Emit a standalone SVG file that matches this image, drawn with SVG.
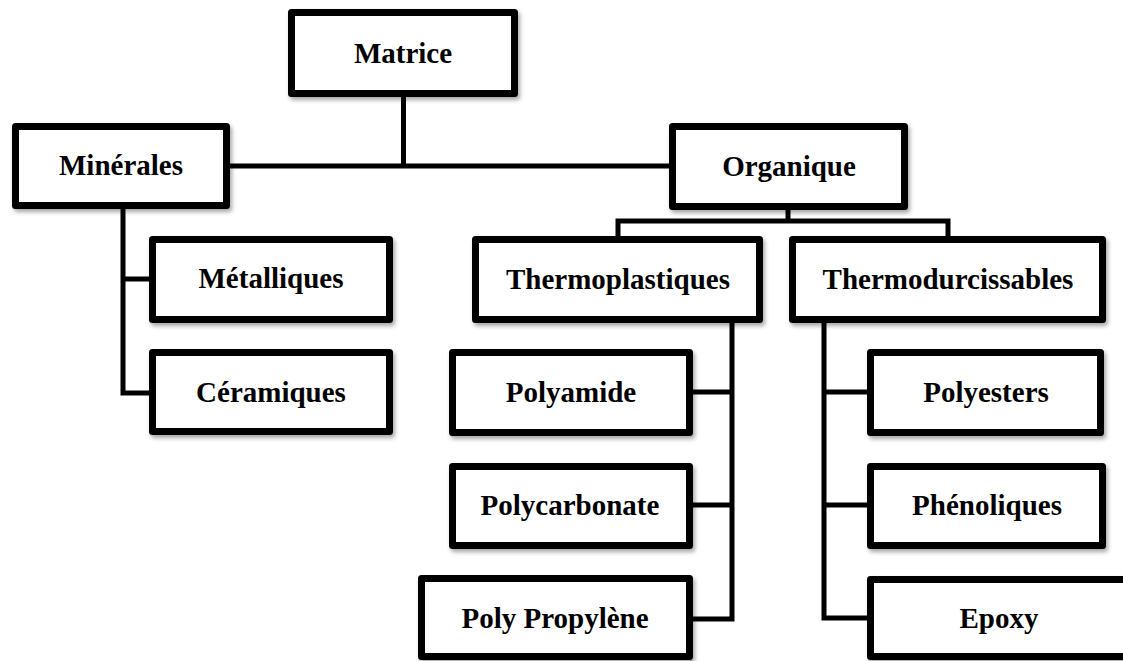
<svg xmlns="http://www.w3.org/2000/svg" width="1123" height="661" viewBox="0 0 1123 661">
<style>
.box{fill:#fff;stroke:#000;stroke-width:7;stroke-linejoin:round;filter:url(#sh)}
.lbl{font-family:"Liberation Serif","Times New Roman",serif;font-weight:bold;font-size:29px;fill:#000;text-anchor:middle}
.con{fill:none;stroke:#000;stroke-width:5;stroke-linejoin:miter}
</style>
<defs>
<filter id="sh" x="-10%" y="-10%" width="130%" height="140%">
<feDropShadow dx="2" dy="3" stdDeviation="2" flood-color="#000" flood-opacity="0.35"/>
</filter>
</defs>
<rect width="1123" height="661" fill="#fff"/>
<g id="connectors">
<path class="con" d="M403.5 97 V166 M230 166 H669"/>
<path class="con" d="M788 210 V221 M618 236 V221 H948 V236"/>
<path class="con" d="M123 209 V393 H149 M123 279 H149"/>
<path class="con" d="M732 323 V619 H693 M732 392 H693 M732 505 H693"/>
<path class="con" d="M824 323 V618 H867 M824 392 H867 M824 505 H867"/>
</g>
<g id="matrice"><rect class="box" x="291.5" y="12.5" width="223" height="81"/><text class="lbl" x="403" y="63">Matrice</text></g>
<g id="minerales"><rect class="box" x="15.5" y="126.5" width="211" height="79"/><text class="lbl" x="121" y="175">Minérales</text></g>
<g id="organique"><rect class="box" x="672.5" y="126.5" width="232" height="80"/><text class="lbl" x="789" y="176">Organique</text></g>
<g id="thermoplastiques"><rect class="box" x="475.5" y="239.5" width="284" height="80"/><text class="lbl" x="618" y="289">Thermoplastiques</text></g>
<g id="thermodurcissables"><rect class="box" x="792.5" y="239.5" width="310" height="80"/><text class="lbl" x="948" y="289">Thermodurcissables</text></g>
<g id="metalliques"><rect class="box" x="152.5" y="239.5" width="237" height="80"/><text class="lbl" x="271" y="288">Métalliques</text></g>
<g id="ceramiques"><rect class="box" x="152.5" y="352.5" width="237" height="79"/><text class="lbl" x="271" y="402">Céramiques</text></g>
<g id="polyamide"><rect class="box" x="452.5" y="352.5" width="237" height="80"/><text class="lbl" x="571" y="402">Polyamide</text></g>
<g id="polycarbonate"><rect class="box" x="452.5" y="466.5" width="237" height="79"/><text class="lbl" x="570" y="515">Polycarbonate</text></g>
<g id="polypropylene"><rect class="box" x="421.5" y="578.5" width="268" height="78"/><text class="lbl" x="555" y="628">Poly Propylène</text></g>
<g id="polyesters"><rect class="box" x="870.5" y="352.5" width="230" height="80"/><text class="lbl" x="986" y="402">Polyesters</text></g>
<g id="phenoliques"><rect class="box" x="870.5" y="466.5" width="232" height="79"/><text class="lbl" x="987" y="515">Phénoliques</text></g>
<g id="epoxy"><rect class="box" x="870.5" y="579.5" width="270" height="77"/><text class="lbl" x="999" y="628">Epoxy</text></g>
</svg>
